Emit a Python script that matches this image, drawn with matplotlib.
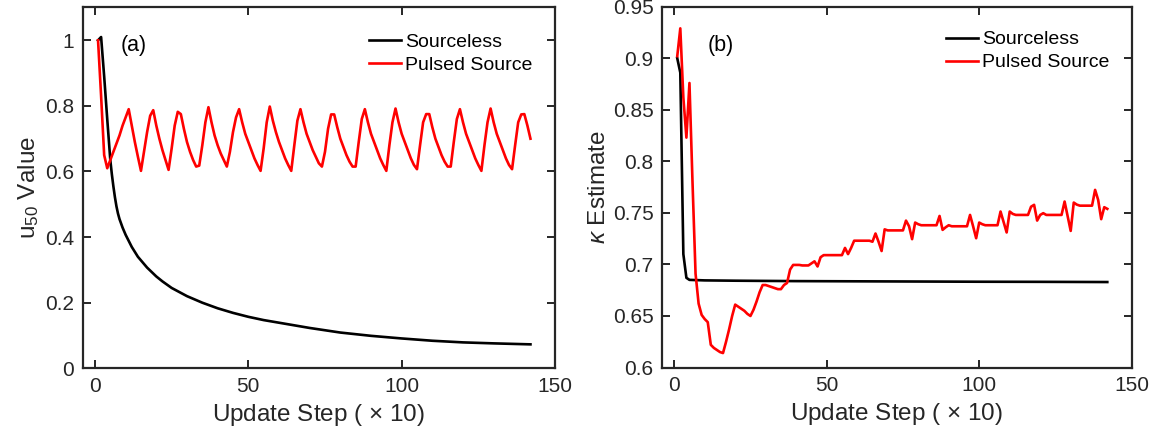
import numpy as np
import matplotlib
matplotlib.use("Agg")
import matplotlib.pyplot as plt

# ---------------- data ----------------
# Panel (a): u50 value
a_black_x = [1, 2, 3, 4, 5, 5.5, 6, 6.5, 7, 7.5, 8, 9, 10, 12, 14, 17, 20, 22, 25, 30, 35, 40, 45,
             50, 55, 60, 65, 70, 80, 90, 100, 110, 120, 130, 142]
a_black_y = [1.00, 1.01, 0.89, 0.76, 0.635, 0.592, 0.555, 0.522, 0.494, 0.472, 0.455, 0.429,
             0.407, 0.37, 0.34, 0.307, 0.28, 0.265, 0.245, 0.22, 0.2, 0.183, 0.169, 0.157,
             0.147, 0.139, 0.131, 0.123, 0.109, 0.099, 0.091, 0.084, 0.079, 0.076, 0.073]

a_red_y = [1.00, 0.83, 0.65, 0.61, 0.635, 0.66, 0.685, 0.71, 0.74, 0.765,
           0.79, 0.74, 0.69, 0.645, 0.602, 0.66, 0.72, 0.77, 0.787, 0.74,
           0.70, 0.665, 0.635, 0.605, 0.67, 0.74, 0.782, 0.775, 0.73, 0.69,
           0.66, 0.635, 0.615, 0.618, 0.68, 0.75, 0.796, 0.75, 0.71, 0.68,
           0.655, 0.635, 0.615, 0.66, 0.72, 0.765, 0.79, 0.75, 0.715, 0.69,
           0.665, 0.64, 0.62, 0.602, 0.67, 0.75, 0.798, 0.755, 0.72, 0.69,
           0.665, 0.64, 0.62, 0.602, 0.68, 0.755, 0.79, 0.75, 0.715, 0.69,
           0.665, 0.645, 0.625, 0.615, 0.66, 0.73, 0.774, 0.774, 0.735, 0.70,
           0.675, 0.65, 0.63, 0.615, 0.615, 0.69, 0.76, 0.79, 0.75, 0.715,
           0.69, 0.665, 0.64, 0.62, 0.602, 0.68, 0.75, 0.792, 0.75, 0.715,
           0.69, 0.665, 0.64, 0.62, 0.607, 0.68, 0.75, 0.775, 0.775, 0.735,
           0.70, 0.675, 0.65, 0.63, 0.615, 0.615, 0.69, 0.76, 0.79, 0.75,
           0.715, 0.69, 0.665, 0.64, 0.62, 0.602, 0.68, 0.75, 0.792, 0.75,
           0.715, 0.69, 0.665, 0.64, 0.62, 0.607, 0.68, 0.75, 0.774, 0.775,
           0.74, 0.70]

# Panel (b): kappa estimate
b_black_x = [1, 2, 3, 4, 5, 10, 20, 40, 60, 80, 100, 120, 142]
b_black_y = [0.900, 0.886, 0.710, 0.687, 0.6850, 0.6845, 0.6842, 0.6838, 0.6836,
             0.6834, 0.6832, 0.6831, 0.6829]

b_red_y = [0.902, 0.929, 0.862, 0.823, 0.876, 0.78, 0.691, 0.662, 0.651, 0.647,
           0.644, 0.622, 0.619, 0.617, 0.615, 0.614, 0.625, 0.637, 0.650, 0.661,
           0.659, 0.657, 0.655, 0.652, 0.650, 0.656, 0.664, 0.673, 0.680, 0.680,
           0.679, 0.678, 0.677, 0.676, 0.676, 0.680, 0.682, 0.695, 0.6995, 0.6995,
           0.6995, 0.699, 0.699, 0.699, 0.701, 0.703, 0.698, 0.707, 0.709, 0.709,
           0.709, 0.709, 0.709, 0.709, 0.709, 0.716, 0.710, 0.716, 0.723, 0.723,
           0.723, 0.723, 0.723, 0.723, 0.722, 0.730, 0.722, 0.713, 0.734, 0.733,
           0.733, 0.733, 0.733, 0.733, 0.733, 0.7425, 0.737, 0.7245, 0.7406, 0.739,
           0.738, 0.738, 0.738, 0.738, 0.738, 0.738, 0.747, 0.7335, 0.736, 0.738,
           0.737, 0.737, 0.737, 0.737, 0.737, 0.737, 0.748, 0.737, 0.7254, 0.7406,
           0.739, 0.738, 0.738, 0.738, 0.738, 0.738, 0.7513, 0.741, 0.731, 0.7513,
           0.749, 0.748, 0.748, 0.748, 0.748, 0.748, 0.756, 0.7578, 0.7425, 0.748,
           0.7497, 0.748, 0.748, 0.748, 0.748, 0.748, 0.748, 0.761, 0.747, 0.7325,
           0.760, 0.758, 0.757, 0.757, 0.757, 0.757, 0.757, 0.7723, 0.7626, 0.7439,
           0.7555, 0.7539]

x_ticks = [0, 50, 100, 150]
a_yticks = [0, 0.2, 0.4, 0.6, 0.8, 1.0]
a_yticklabels = ["0", "0.2", "0.4", "0.6", "0.8", "1"]
b_yticks = [0.6, 0.65, 0.7, 0.75, 0.8, 0.85, 0.9, 0.95]
b_yticklabels = ["0.6", "0.65", "0.7", "0.75", "0.8", "0.85", "0.9", "0.95"]
legend_labels = ["Sourceless", "Pulsed Source"]

# ---------------- style ----------------
plt.rcParams['font.family'] = ['Liberation Sans', 'DejaVu Sans']
plt.rcParams['mathtext.fontset'] = 'custom'
plt.rcParams['mathtext.rm'] = 'Liberation Sans'
plt.rcParams['mathtext.it'] = 'Liberation Sans:italic'
AX = '#262626'
W, H = 1158, 436
fig = plt.figure(figsize=(W / 100, H / 100), dpi=100)

def px_axes(l, r, t, b):
    return fig.add_axes([l / W, 1 - b / H, (r - l) / W, (b - t) / H])

ax1 = px_axes(82.7, 555, 7.5, 368.3)
ax2 = px_axes(662, 1131.7, 6.7, 367.5)

lw = 1.9
LABEL_FS = 17.5
for ax in (ax1, ax2):
    for s in ax.spines.values():
        s.set_color(AX)
        s.set_linewidth(1.6)
    ax.tick_params(direction='in', length=6, width=1.4, colors=AX, top=True, right=True,
                   labelsize=15, pad=6)
    ax.set_xticks(x_ticks)
    ax.set_xlim(-4, 150)

leg_kw = dict(loc='upper right', frameon=False, fontsize=14, handlelength=1.65,
              handletextpad=0.2, labelspacing=0.27, borderpad=0, borderaxespad=0)

# Panel (a)
ax1.plot(a_black_x, a_black_y, color='black', lw=lw, label=legend_labels[0])
ax1.plot(np.arange(1, len(a_red_y) + 1), a_red_y, color='#ff0000', lw=lw, label=legend_labels[1])
ax1.set_ylim(0, 1.1)
ax1.set_yticks(a_yticks)
ax1.set_yticklabels(a_yticklabels)
ax1.set_xlabel(r'Update Step ( $\times$ 10)', fontsize=LABEL_FS, color=AX, labelpad=4.5)
ax1.set_ylabel(r'u$_{50}$ Value', fontsize=LABEL_FS, color=AX, labelpad=3)
ax1.text(8.5, 0.985, '(a)', fontsize=15.5, color='black', ha='left', va='center')
ax1.legend(bbox_to_anchor=(0.952, 0.929), **leg_kw)

# Panel (b)
ax2.plot(b_black_x, b_black_y, color='black', lw=lw, label=legend_labels[0])
ax2.plot(np.arange(1, len(b_red_y) + 1), b_red_y, color='#ff0000', lw=lw, label=legend_labels[1])
ax2.set_ylim(0.6, 0.95)
ax2.set_yticks(b_yticks)
ax2.set_yticklabels(b_yticklabels)
ax2.set_xlabel(r'Update Step ( $\times$ 10)', fontsize=LABEL_FS, color=AX, labelpad=4.5)
ax2.set_ylabel(r'$\kappa$ Estimate', fontsize=LABEL_FS, color=AX, labelpad=2)
ax2.text(11, 0.912, '(b)', fontsize=15.5, color='black', ha='left', va='center')
ax2.legend(bbox_to_anchor=(0.952, 0.933), **leg_kw)

fig.savefig('out.png', dpi=100)
